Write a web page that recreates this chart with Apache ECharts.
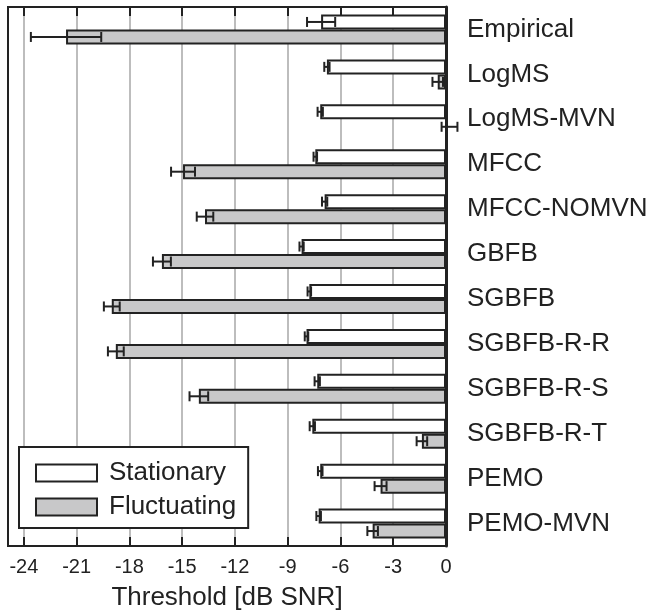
<!DOCTYPE html>
<html>
<head>
<meta charset="utf-8">
<script src="https://cdn.jsdelivr.net/npm/echarts@6/dist/echarts.min.js"></script>
<style>
  html, body { margin: 0; padding: 0; background: #fff; }
  #chart { width: 650px; height: 612px; }
</style>
</head>
<body>
<div id="chart"></div>
<script>
// Feature sets, listed top to bottom
const categories = ['Empirical', 'LogMS', 'LogMS-MVN', 'MFCC', 'MFCC-NOMVN', 'GBFB',
  'SGBFB', 'SGBFB-R-R', 'SGBFB-R-S', 'SGBFB-R-T', 'PEMO', 'PEMO-MVN'];

// Thresholds in dB SNR and their error half-widths
const stationary     = [-7.1, -6.77, -7.15, -7.43, -6.9, -8.21, -7.77, -7.93, -7.32, -7.6, -7.15, -7.24];
const stationaryErr  = [0.8, 0.15, 0.15, 0.1, 0.15, 0.12, 0.1, 0.1, 0.15, 0.15, 0.13, 0.13];
const fluctuating    = [-21.6, -0.47, 0.2, -14.95, -13.7, -16.15, -19.0, -18.77, -14.05, -1.37, -3.72, -4.17];
const fluctuatingErr = [2.0, 0.3, 0.45, 0.68, 0.47, 0.51, 0.45, 0.45, 0.53, 0.3, 0.34, 0.3];

const tickValues = [-24, -21, -18, -15, -12, -9, -6, -3, 0];

const INK = '#222222';
const FONT = 'Liberation Sans, Arial, Helvetica, sans-serif';
const BAR_W = 15;

function errorData(values, errs, side) {
  return values.map((v, i) => [i, v - errs[i], v + errs[i], side]);
}

function renderError(params, api) {
  const cat = api.value(0);
  const lo = api.coord([api.value(1), cat]);
  const hi = api.coord([api.value(2), cat]);
  const side = api.value(3);
  const y = lo[1] + (side === 0 ? -BAR_W / 2 : BAR_W / 2);
  const capH = 5;
  const style = { stroke: INK, lineWidth: 2, fill: null };
  return {
    type: 'group',
    children: [
      { type: 'line', shape: { x1: lo[0], y1: y, x2: hi[0], y2: y }, style },
      { type: 'line', shape: { x1: lo[0], y1: y - capH, x2: lo[0], y2: y + capH }, style },
      { type: 'line', shape: { x1: hi[0], y1: y - capH, x2: hi[0], y2: y + capH }, style }
    ]
  };
}

const xCommon = {
  type: 'value',
  min: -24.9,
  max: 0,
  axisLine: { show: true, onZero: false, lineStyle: { color: INK, width: 2 } },
  axisTick: { show: true, inside: true, length: 9, customValues: tickValues,
              lineStyle: { color: INK, width: 2 } }
};

const chart = echarts.init(document.getElementById('chart'), null, { renderer: 'canvas' });
chart.setOption({
  animation: false,
  backgroundColor: '#ffffff',
  textStyle: { fontFamily: FONT, color: INK },
  grid: {
    left: 8, right: 204, top: 7, bottom: 66,
    containLabel: false,
    outerBoundsMode: 'none',
    show: true, borderColor: INK, borderWidth: 2, backgroundColor: 'transparent'
  },
  legend: {
    data: ['Stationary', 'Fluctuating'],
    orient: 'vertical',
    left: 19, top: 447,
    icon: 'rect',
    itemWidth: 61, itemHeight: 17, itemGap: 8,
    padding: [13, 12, 8, 16],
    borderColor: INK, borderWidth: 2,
    backgroundColor: '#ffffff',
    textStyle: { fontFamily: FONT, fontSize: 26, color: INK, padding: [0, 0, 0, 7] }
  },
  xAxis: [
    Object.assign({}, xCommon, {
      position: 'bottom',
      name: 'Threshold [dB SNR]',
      nameLocation: 'middle',
      nameGap: 39,
      nameTextStyle: { fontFamily: FONT, fontSize: 26, color: INK },
      axisLabel: { customValues: tickValues, fontFamily: FONT, fontSize: 20, color: INK, margin: 11 },
      splitLine: { show: true, lineStyle: { color: '#bdbdbd', width: 2 } }
    }),
    Object.assign({}, xCommon, {
      position: 'top',
      axisLabel: { show: false },
      splitLine: { show: false }
    })
  ],
  yAxis: {
    type: 'category',
    data: categories,
    inverse: true,
    position: 'right',
    axisLine: { show: true, onZero: false, lineStyle: { color: INK, width: 3 } },
    axisTick: { show: false },
    axisLabel: { fontFamily: FONT, fontSize: 26, color: INK, margin: 21, padding: [0, 0, 4, 0] },
    splitLine: { show: false }
  },
  series: [
    {
      name: 'Stationary',
      type: 'bar',
      data: stationary,
      barWidth: BAR_W,
      barGap: '0%',
      itemStyle: { color: '#ffffff', borderColor: INK, borderWidth: 2 },
      z: 3
    },
    {
      name: 'Fluctuating',
      type: 'bar',
      data: fluctuating,
      barWidth: BAR_W,
      barGap: '0%',
      itemStyle: { color: '#c8c8c9', borderColor: INK, borderWidth: 2 },
      z: 2
    },
    {
      type: 'custom',
      name: 'Stationary error',
      renderItem: renderError,
      data: errorData(stationary, stationaryErr, 0),
      encode: { x: [1, 2], y: 0 },
      z: 5,
      silent: true
    },
    {
      type: 'custom',
      name: 'Fluctuating error',
      renderItem: renderError,
      data: errorData(fluctuating, fluctuatingErr, 1),
      encode: { x: [1, 2], y: 0 },
      z: 5,
      silent: true,
      clip: false
    }
  ]
});
</script>
</body>
</html>
